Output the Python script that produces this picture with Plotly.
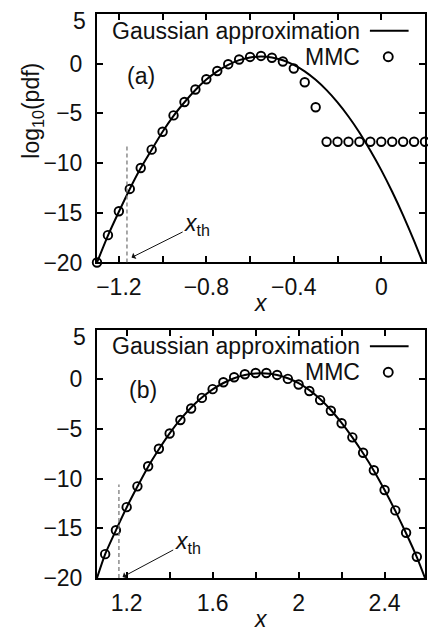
import plotly.graph_objects as go

# ---------------- data ----------------
# Panel (a)
a_mmc_x = [-1.30, -1.25, -1.20, -1.15, -1.10, -1.05, -1.00, -0.95, -0.90, -0.85,
           -0.80, -0.75, -0.70, -0.65, -0.60, -0.55, -0.50, -0.45, -0.40, -0.35,
           -0.30, -0.25, -0.20, -0.15, -0.10, -0.05, 0.00, 0.05, 0.10, 0.15, 0.20]
a_mmc_y = [-20.0, -17.25, -14.85, -12.6, -10.5, -8.65, -6.85, -5.2, -3.85, -2.6,
           -1.57, -0.74, -0.05, 0.42, 0.68, 0.78, 0.6, 0.22, -0.48, -1.87,
           -4.38, -7.85, -7.85, -7.85, -7.85, -7.85, -7.85, -7.85, -7.85, -7.85, -7.85]
a_gauss_x = [-1.30, -1.25, -1.20, -1.15, -1.10, -1.05, -1.00, -0.95, -0.90, -0.85,
             -0.80, -0.75, -0.70, -0.65, -0.60, -0.55, -0.50, -0.45, -0.40, -0.35,
             -0.30, -0.25, -0.20, -0.15, -0.10, -0.05, 0.00, 0.05, 0.10, 0.15, 0.20]
a_gauss_y = [-20.0, -17.3, -14.9, -12.6, -10.5, -8.65, -6.85, -5.25, -3.88, -2.65,
             -1.6, -0.78, -0.12, 0.36, 0.63, 0.72, 0.63, 0.35, -0.12, -0.77,
             -1.62, -2.66, -3.89, -5.31, -6.92, -8.73, -10.71, -12.89, -15.26, -17.82, -20.57]

# Panel (b)
b_mmc_x = [1.10, 1.15, 1.20, 1.25, 1.30, 1.35, 1.40, 1.45, 1.50, 1.55,
           1.60, 1.65, 1.70, 1.75, 1.80, 1.85, 1.90, 1.95, 2.00, 2.05,
           2.10, 2.15, 2.20, 2.25, 2.30, 2.35, 2.40, 2.45, 2.50, 2.55]
b_mmc_y = [-17.6, -15.2, -12.87, -10.78, -8.76, -7.0, -5.46, -4.1, -2.95, -1.88,
           -1.0, -0.3, 0.2, 0.5, 0.63, 0.63, 0.43, 0.03, -0.53, -1.19,
           -2.1, -3.17, -4.43, -5.85, -7.4, -9.16, -11.15, -13.2, -15.45, -17.86]
b_gauss_x = [1.062, 1.10, 1.15, 1.20, 1.25, 1.30, 1.35, 1.40, 1.45, 1.50, 1.55,
             1.60, 1.65, 1.70, 1.75, 1.80, 1.85, 1.90, 1.95, 2.00, 2.05,
             2.10, 2.15, 2.20, 2.25, 2.30, 2.35, 2.40, 2.45, 2.50, 2.55, 2.588]
b_gauss_y = [-20.0, -17.6, -15.2, -12.9, -10.8, -8.8, -7.05, -5.45, -4.05, -2.85, -1.85,
             -1.02, -0.38, 0.1, 0.42, 0.58, 0.58, 0.42, 0.1, -0.4, -1.1,
             -2.0, -3.1, -4.4, -5.85, -7.45, -9.2, -11.15, -13.25, -15.5, -17.9, -20.0]

# threshold markers: [x_th, top of dashed line]
a_xth = [-1.163, -8.2]
b_xth = [1.164, -10.6]
# arrow: tip (x, y), label centre (x, y)
a_arrow = [-1.142, -19.5, -0.842, -16.2]
b_arrow = [1.181, -19.9, 1.484, -16.4]

a_xrange = [-1.30, 0.20]
b_xrange = [1.062, 2.588]
y_range = [-20, 5]

a_xticks = [-1.2, -1.0, -0.8, -0.6, -0.4, -0.2, 0.0]
a_xticktext = ["\u22121.2", " ", "\u22120.8", " ", "\u22120.4", " ", "0"]
b_xticks = [1.2, 1.4, 1.6, 1.8, 2.0, 2.2, 2.4]
b_xticktext = ["1.2", " ", "1.6", " ", "2", " ", "2.4"]
y_ticks = [5, 0, -5, -10, -15, -20]
y_ticktext = [" ", "0", "\u22125", "\u221210", "\u221215", "\u221220"]

panel_labels = ["(a)", "(b)"]
panel_label_pos = [[-1.100, -1.2], [1.275, -1.1]]

# ---------------- figure ----------------
FONT = "Liberation Sans, Arial, Helvetica, sans-serif"
TXT = "#111111"
FS = 23

fig = go.Figure()

line_style = dict(color="black", width=2, shape="spline", smoothing=0.6)
marker_style = dict(symbol="circle-open", size=8.5, color="black", line=dict(width=1.9, color="black"))

fig.add_trace(go.Scatter(x=a_gauss_x, y=a_gauss_y, mode="lines", line=line_style,
                         xaxis="x", yaxis="y", hoverinfo="skip"))
fig.add_trace(go.Scatter(x=a_mmc_x, y=a_mmc_y, mode="markers", marker=marker_style,
                         xaxis="x", yaxis="y", cliponaxis=False))
fig.add_trace(go.Scatter(x=b_gauss_x, y=b_gauss_y, mode="lines", line=line_style,
                         xaxis="x2", yaxis="y2", hoverinfo="skip"))
fig.add_trace(go.Scatter(x=b_mmc_x, y=b_mmc_y, mode="markers", marker=marker_style,
                         xaxis="x2", yaxis="y2"))

axis_common = dict(showgrid=False, zeroline=False, showline=True, linewidth=2,
                   linecolor="black", mirror="ticks", ticks="inside", ticklen=6,
                   tickwidth=1.5, tickcolor="black",
                   tickfont=dict(family=FONT, size=FS, color=TXT))

top_dom = [(578 - 258) / 572, 1.0]
bot_dom = [0.0, (578 - 326) / 572]

fig.update_layout(
    width=428, height=632,
    margin=dict(l=97, r=1, t=6, b=54),
    plot_bgcolor="white", paper_bgcolor="white",
    showlegend=False,
    font=dict(family=FONT, size=FS, color=TXT),
    xaxis=dict(axis_common, domain=[0, 1], anchor="y", range=a_xrange,
               tickmode="array", tickvals=a_xticks, ticktext=a_xticktext,
               ticklabelstandoff=3),
    yaxis=dict(axis_common, domain=top_dom, anchor="x", range=y_range,
               tickmode="array", tickvals=y_ticks, ticktext=y_ticktext,
               ticklabelstandoff=8),
    xaxis2=dict(axis_common, domain=[0, 1], anchor="y2", range=b_xrange,
                tickmode="array", tickvals=b_xticks, ticktext=b_xticktext,
                ticklabelstandoff=3),
    yaxis2=dict(axis_common, domain=bot_dom, anchor="x2", range=y_range,
                tickmode="array", tickvals=y_ticks, ticktext=y_ticktext,
                ticklabelstandoff=8),
)

shapes = []
annotations = []

for xs, ys, xth, arrow, lab, lpos in [("x", "y", a_xth, a_arrow, panel_labels[0], panel_label_pos[0]),
                                      ("x2", "y2", b_xth, b_arrow, panel_labels[1], panel_label_pos[1])]:
    # dashed threshold line
    shapes.append(dict(type="line", xref=xs, yref=ys, x0=xth[0], x1=xth[0],
                       y0=y_range[0], y1=xth[1],
                       line=dict(color="#7a7a7a", width=1.3, dash="4px,3px")))
    # legend sample line
    shapes.append(dict(type="line", xref=f"{xs} domain", yref=f"{ys} domain",
                       x0=0.832, x1=0.950, y0=0.9325, y1=0.9325,
                       line=dict(color="black", width=2)))
    # legend marker
    shapes.append(dict(type="circle", xref=f"{xs} domain", yref=f"{ys} domain",
                       xsizemode="pixel", ysizemode="pixel",
                       xanchor=0.888, yanchor=0.828, x0=-4.5, x1=4.5, y0=-4.5, y1=4.5,
                       line=dict(color="black", width=1.9), fillcolor="rgba(0,0,0,0)"))
    annotations.append(dict(xref=f"{xs} domain", yref=f"{ys} domain", x=0.797, y=0.9325,
                            xanchor="right", yanchor="middle", showarrow=False, xshift=4,
                            text="Gaussian approximation", font=dict(size=FS)))
    annotations.append(dict(xref=f"{xs} domain", yref=f"{ys} domain", x=0.797, y=0.828,
                            xanchor="right", yanchor="middle", showarrow=False, xshift=4,
                            text="MMC", font=dict(size=FS)))
    # x_th arrow + label
    annotations.append(dict(xref=xs, yref=ys, x=arrow[0], y=arrow[1],
                            axref=xs, ayref=ys, ax=arrow[2], ay=arrow[3],
                            text="<i>x</i><sub>th</sub>", showarrow=True,
                            arrowhead=1, arrowsize=1.2, arrowwidth=1, arrowcolor="#111",
                            font=dict(size=FS)))
    # panel label
    annotations.append(dict(xref=xs, yref=ys, x=lpos[0], y=lpos[1], text=lab,
                            showarrow=False, font=dict(size=FS)))
    # top "5" tick label (sits slightly below the frame)
    annotations.append(dict(xref=f"{xs} domain", yref=ys, x=0, y=5, xanchor="right",
                            yanchor="middle", xshift=-9, yshift=-7, text="5",
                            showarrow=False, font=dict(size=FS)))
    # x axis title
    annotations.append(dict(xref=f"{xs} domain", yref=f"{ys} domain", x=0.5, y=0,
                            yshift=-41, yanchor="middle", xanchor="center",
                            text="<i>x</i>", showarrow=False, font=dict(size=FS)))

# y axis title (top panel only)
annotations.append(dict(xref="x domain", yref="y domain", x=0, y=0.611, xshift=-64,
                        xanchor="center", yanchor="middle", textangle=-90,
                        text="log<sub>10</sub>(pdf)", showarrow=False, font=dict(size=FS)))

fig.update_layout(shapes=shapes, annotations=annotations)

fig.write_html("out.html", config={"displayModeBar": False},
               post_script="document.body.style.margin='0';document.body.style.overflow='hidden';")
